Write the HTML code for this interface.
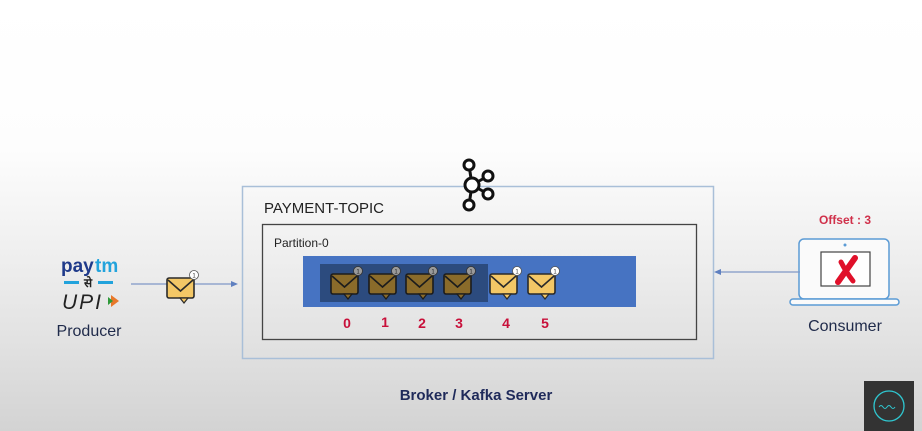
<!DOCTYPE html>
<html><head><meta charset="utf-8"><style>
html,body{margin:0;padding:0;}
body{width:922px;height:431px;overflow:hidden;background:linear-gradient(180deg,#ffffff 0px,#fdfdfd 150px,#eeeeee 260px,#e2e2e2 340px,#d3d3d3 431px);font-family:"Liberation Sans",sans-serif;}
svg{position:absolute;left:0;top:0;}
</style></head><body>
<svg width="922" height="431" viewBox="0 0 922 431" xmlns="http://www.w3.org/2000/svg">
<defs>
<g id="envD">
<rect x="0" y="0" width="27" height="20" rx="2" fill="#8a6b2a" stroke="#1c1c1c" stroke-width="1.6"/>
<polyline points="1,2 13.5,13 26,2" fill="none" stroke="#1c1c1c" stroke-width="1.6"/>
<polygon points="13,20 21,20 17,25" fill="#8a6b2a" stroke="#1c1c1c" stroke-width="1.2"/>
<circle cx="27" cy="-3" r="4.5" fill="#9a9a9a" stroke="#333" stroke-width="0.8"/>
<text x="27" y="-0.5" font-size="6" text-anchor="middle" fill="#222">1</text>
</g>
<g id="envL">
<rect x="0" y="0" width="27" height="20" rx="2" fill="#f3c766" stroke="#2a2a2a" stroke-width="1.6"/>
<polyline points="1,2 13.5,13 26,2" fill="none" stroke="#2a2a2a" stroke-width="1.6"/>
<polygon points="13,20 21,20 17,25" fill="#f3c766" stroke="#2a2a2a" stroke-width="1.2"/>
<circle cx="27" cy="-3" r="4.5" fill="#fff" stroke="#555" stroke-width="0.8"/>
<text x="27" y="-0.5" font-size="6" text-anchor="middle" fill="#333">1</text>
</g>
</defs>

<rect x="242.5" y="186.5" width="471" height="172" fill="none" stroke="#a9bfd8" stroke-width="1.5"/>
<text x="264" y="213" font-size="15" fill="#222">PAYMENT-TOPIC</text>
<rect x="262.5" y="224.5" width="434" height="115" fill="none" stroke="#444" stroke-width="1.3"/>
<text x="274" y="247" font-size="12" fill="#222">Partition-0</text>
<rect x="303" y="256" width="333" height="51" fill="#4673c2"/>
<rect x="320" y="264" width="168" height="38" fill="#2c4b7e"/>

<use href="#envD" x="331" y="274"/>
<use href="#envD" x="369" y="274"/>
<use href="#envD" x="406" y="274"/>
<use href="#envD" x="444" y="274"/>
<use href="#envL" x="490" y="274"/>
<use href="#envL" x="528" y="274"/>

<g font-size="14" font-weight="bold" fill="#c8103a" text-anchor="middle">
<text x="347" y="328">0</text><text x="385" y="327">1</text><text x="422" y="328">2</text><text x="459" y="328">3</text><text x="506" y="328">4</text><text x="545" y="328">5</text>
</g>

<g fill="#fff" stroke="#111" stroke-width="3">
<line x1="469" y1="165" x2="472" y2="185"/><line x1="469" y1="205" x2="472" y2="185"/>
<line x1="488" y1="176" x2="472" y2="185"/><line x1="488" y1="194" x2="472" y2="185"/>
<circle cx="469" cy="165" r="5"/><circle cx="469" cy="205" r="5"/>
<circle cx="488" cy="176" r="5"/><circle cx="488" cy="194" r="5"/>
<circle cx="472" cy="185" r="7"/>
</g>

<text x="61" y="272" font-size="19" font-weight="bold" fill="#1f3a8a">pay</text>
<text x="95" y="272" font-size="19" font-weight="bold" fill="#22a3dc">tm</text>
<rect x="64" y="281" width="15" height="3" fill="#22a3dc"/>
<rect x="98" y="281" width="15" height="3" fill="#22a3dc"/>
<text x="88" y="287" font-size="12" font-weight="bold" fill="#222" text-anchor="middle" font-family="'Noto Sans CJK SC',sans-serif">से</text>
<text x="62" y="309" font-size="21" font-style="italic" fill="#222" letter-spacing="2">UPI</text>
<polygon points="111,295 119,301 111,307" fill="#e8782a"/>
<polygon points="108,297 113,301 108,305" fill="#2f9a3a"/>
<text x="89" y="336" font-size="16" fill="#1f2a4a" text-anchor="middle">Producer</text>
<line x1="131" y1="284" x2="233" y2="284" stroke="#7f97c6" stroke-width="1.2"/>
<polygon points="238,284 231,281 231,287" fill="#5f80c0"/>
<use href="#envL" x="167" y="278"/>

<text x="845" y="224" font-size="12" font-weight="bold" fill="#d0304a" text-anchor="middle">Offset : 3</text>
<rect x="799" y="239" width="90" height="60" rx="5" fill="#fafafa" stroke="#5b9bd5" stroke-width="1.5"/>
<circle cx="845" cy="245" r="1.5" fill="#5b9bd5"/>
<rect x="790" y="299" width="109" height="6" rx="3" fill="#fafafa" stroke="#5b9bd5" stroke-width="1.5"/>
<rect x="821" y="252" width="49" height="34" fill="#fff" stroke="#444" stroke-width="1.2"/>
<path d="M855 258 L838 282" stroke="#e0102a" stroke-width="6" stroke-linecap="round"/>
<path d="M841 262 Q846 272 853 281" fill="none" stroke="#e0102a" stroke-width="5" stroke-linecap="round"/>
<text x="845" y="331" font-size="16" fill="#1f2a4a" text-anchor="middle">Consumer</text>
<line x1="719" y1="272" x2="800" y2="272" stroke="#7f97c6" stroke-width="1.2"/>
<polygon points="714,272 721,269 721,275" fill="#5f80c0"/>

<text x="476" y="400" font-size="15" font-weight="bold" fill="#1f2a5a" text-anchor="middle">Broker / Kafka Server</text>

<rect x="864" y="381" width="50" height="50" fill="#333"/>
<circle cx="889" cy="406" r="15" fill="none" stroke="#2fc7d0" stroke-width="1.3"/>
<path d="M879 407 q2 -3 4 0 t4 0 t4 0 t4 0" fill="none" stroke="#2fc7d0" stroke-width="1"/>
</svg>
</body></html>
